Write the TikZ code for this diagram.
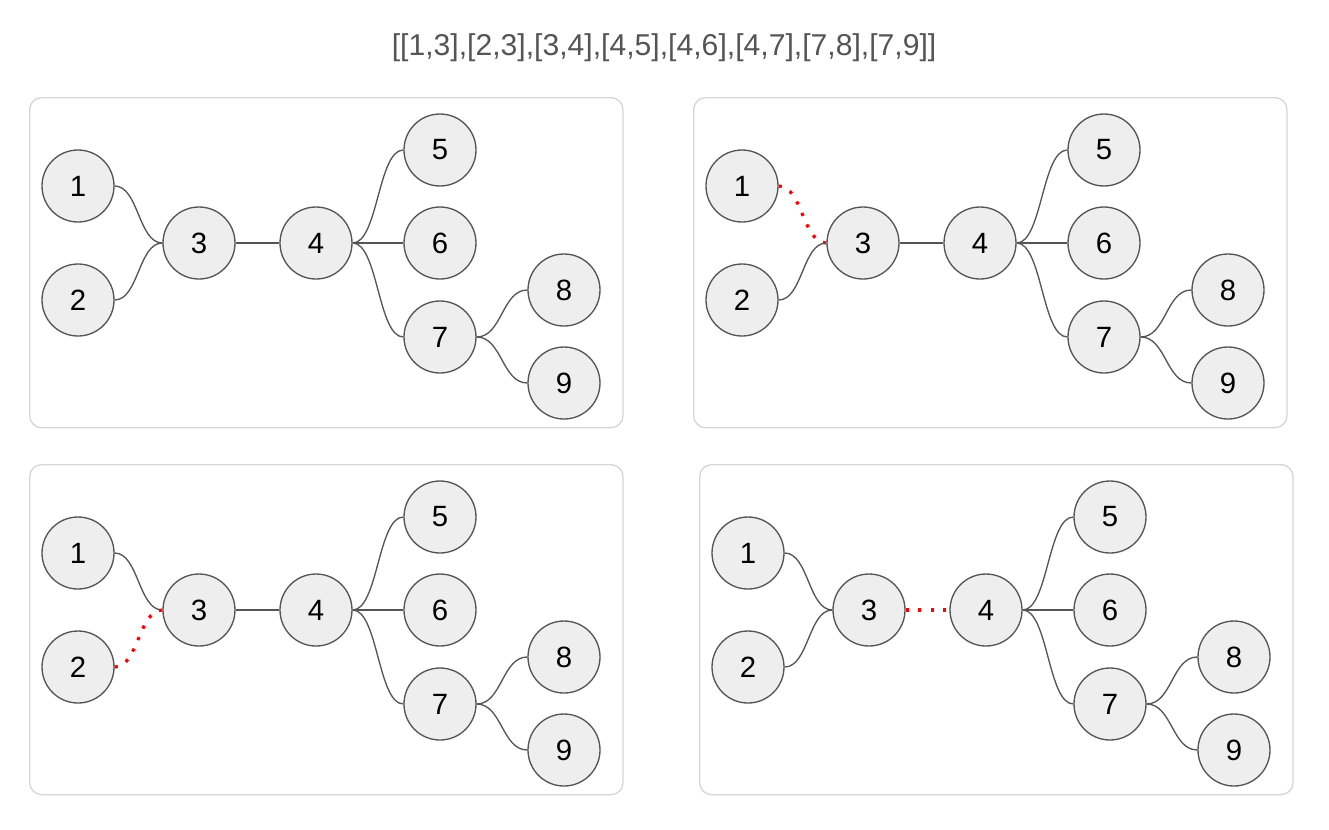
\documentclass[tikz,border=0pt]{standalone}
\usepackage{fontspec}
\setmainfont{Liberation Sans}
\usetikzlibrary{calc}
\definecolor{edgegray}{HTML}{555555}
\definecolor{nodefill}{HTML}{EEEEEE}
\definecolor{panelgray}{HTML}{D6D6D6}
\definecolor{titlegray}{HTML}{555555}
\tikzset{
  treenode/.style={circle, draw=edgegray, line width=1pt, fill=nodefill, minimum size=54pt, inner sep=0pt, font=\fontsize{22}{26}\selectfont},
  edgeline/.style={draw=edgegray, line width=1pt},
  redline/.style={draw=red, line width=2.4pt, dash pattern=on 2.4pt off 7pt},
  panelbox/.style={draw=panelgray, line width=1pt, rounded corners=9pt},
}
\newcommand\lnk[3]{\draw[#3] let \p1=(#1.east),\p2=(#2.west) in (\p1) .. controls ({(\x1+\x2)/2},\y1) and ({(\x1+\x2)/2},\y2) .. (\p2);}
\newcommand\mytree[2]{%
  \node[panelbox, minimum width=445pt, minimum height=247.5pt, anchor=north west] (#1box) at (29,97) {};
  \node[treenode] (#1a) at (78,186) {1};
  \node[treenode] (#1b) at (78,300) {2};
  \node[treenode] (#1c) at (199,243) {3};
  \node[treenode] (#1d) at (316,243) {4};
  \node[treenode] (#1e) at (440,150) {5};
  \node[treenode] (#1f) at (440,243) {6};
  \node[treenode] (#1g) at (440,337) {7};
  \node[treenode] (#1h) at (564,290) {8};
  \node[treenode] (#1i) at (564,383) {9};
  \ifnum#2=1 \lnk{#1a}{#1c}{redline}\else\lnk{#1a}{#1c}{edgeline}\fi
  \ifnum#2=2 \lnk{#1b}{#1c}{redline}\else\lnk{#1b}{#1c}{edgeline}\fi
  \ifnum#2=3 \lnk{#1c}{#1d}{redline}\else\lnk{#1c}{#1d}{edgeline}\fi
  \lnk{#1d}{#1e}{edgeline}
  \lnk{#1d}{#1f}{edgeline}
  \lnk{#1d}{#1g}{edgeline}
  \lnk{#1g}{#1h}{edgeline}
  \lnk{#1g}{#1i}{edgeline}
}
\begin{document}
\begin{tikzpicture}[x=0.75pt,y=-0.75pt]
\useasboundingbox[fill=white] (0,0) rectangle (1329,829);
\node[text=titlegray, font=\fontsize{22.6}{27}\selectfont] (title) at (664,48) {[[1,3],[2,3],[3,4],[4,5],[4,6],[4,7],[7,8],[7,9]]};
\begin{scope}
  \mytree{p}{0}
\end{scope}
\begin{scope}[shift={(664,0)}]
  \mytree{q}{1}
\end{scope}
\begin{scope}[shift={(0,367)}]
  \mytree{r}{2}
\end{scope}
\begin{scope}[shift={(670,367)}]
  \mytree{s}{3}
\end{scope}
\end{tikzpicture}
\end{document}
